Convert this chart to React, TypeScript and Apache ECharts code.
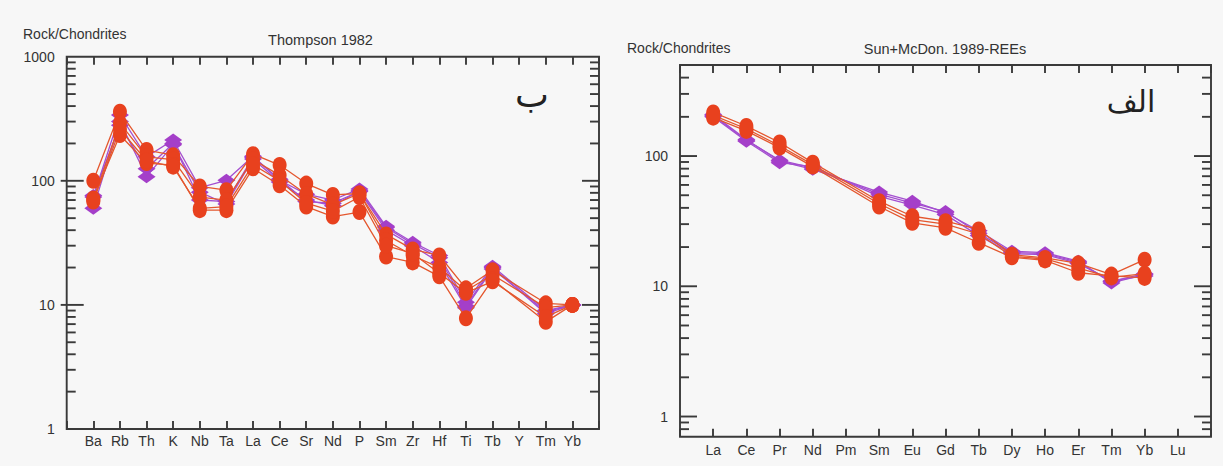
import React, { useEffect, useRef } from "react";
import * as echarts from "echarts";

// ---------- data ----------
const leftCategories = ["Ba", "Rb", "Th", "K", "Nb", "Ta", "La", "Ce", "Sr", "Nd", "P", "Sm", "Zr", "Hf", "Ti", "Tb", "Y", "Tm", "Yb"];
const rightCategories = ["La", "Ce", "Pr", "Nd", "Pm", "Sm", "Eu", "Gd", "Tb", "Dy", "Ho", "Er", "Tm", "Yb", "Lu"];

// Thompson 1982 spider diagram (left, "ب")
const leftPurple1 = [74, 339, 156, 213, 88, 101, 158, 101, 78, 70, 86, 43, 32, 25, 10.5, 20.5, null, 9, 10];
const leftPurple2 = [60, 300, 108, 195, 81, 65, 150, 98, 70, 63, 83, 42, 31, 24, 9.8, 20, null, 8.5, 10];
const leftPurple3 = [76, 280, 125, 200, 70, 68, 155, 103, 68, 66, 82, 40, 30, 22, 9.5, 19.5, null, 8.8, 10];
const leftRed1 = [100, 360, 177, 161, 90, 84, 164, 134, 95, 77, 79, 37, 28, 25, 13.6, 19, null, 10.3, 10];
const leftRed2 = [70, 292, 156, 148, 74, 70, 148, 111, 78, 64, 79, 33, 25, 20, 13, 17.5, null, 9.5, 10];
const leftRed3 = [72, 234, 139, 134, 58, 58, 126, 92, 62, 51.5, 56, 24.5, 22, 17, 7.8, 16, null, 7.3, 10];
const leftRed4 = [68, 260, 145, 130, 60, 62, 135, 100, 66, 57, 74, 30, 26, 18, 12.5, 15.5, null, 8, 10];

// Sun+McDon. 1989 REE diagram (right, "الف")
const rightPurple1 = [208, 134, 91.5, 79, null, 52.9, 45, 36.7, 26.7, 18.6, 18.1, 15.6, 10.6, 12.3, null];
const rightPurple2 = [200, 130, 89, 83, null, 49, 42, 35.5, 24.5, 17.8, 17.5, 15, 11, 12, null];
const rightPurple3 = [204, 132, 93, 81, null, 51, 43.5, 37.5, 25.5, 18.2, 17.8, 15.3, 10.9, 12.5, null];
const rightRed1 = [216, 170, 127, 89, null, 45, 34.5, 31.6, 27.3, 17.5, 16.5, 15, 12.3, 16, null];
const rightRed2 = [197, 156, 116, 83, null, 41, 30.7, 28.1, 21.6, 16.7, 15.8, 12.7, 12, 11.6, null];
const rightRed3 = [205, 162, 120, 86, null, 43, 32.5, 30, 25.2, 17, 16.2, 13.8, 11.7, 12.5, null];

// y-axis tick values
const leftYLabels = [1, 10, 100, 1000];
const rightYLabels = [1, 10, 100];
const leftMajorTicks = [10, 100];
const leftMinorTicks = [2, 3, 4, 5, 6, 7, 8, 9, 20, 30, 40, 50, 60, 70, 80, 90, 200, 300, 400, 500, 600, 700, 800, 900];
const rightMajorTicks = [1, 10, 100];
const rightMinorTicks = [0.8, 0.9, 2, 3, 4, 5, 6, 7, 8, 9, 20, 30, 40, 50, 60, 70, 80, 90, 200, 300, 400];

// ---------- styles ----------
const RED = "#e8411e";
const RED_LINE = "#e4572e";
const PURPLE = "#a43fc9";
const PURPLE_LINE = "#a44fd0";
const FRAME = "#3a3a3a";
const TEXT = "#333";
const FONT = "Liberation Sans, Arial, sans-serif";
const FRAME_W = 1.9;

function toPoints(values: (number | null)[]) {
  const pts: [number, number][] = [];
  values.forEach((v, i) => {
    if (v != null) pts.push([i + 1, v]);
  });
  return pts;
}

function sampleSeries(values: (number | null)[], kind: "red" | "purple", gi: number) {
  const isRed = kind === "red";
  return {
    type: "line",
    xAxisIndex: gi * 2,
    yAxisIndex: gi,
    data: toPoints(values),
    symbol: isRed ? "circle" : "diamond",
    symbolSize: isRed ? [14, 16] : [18, 13],
    itemStyle: { color: isRed ? RED : PURPLE },
    lineStyle: { color: isRed ? RED_LINE : PURPLE_LINE, width: 1.3 },
    z: isRed ? 5 : 4,
    silent: true,
  };
}

function tickSeries(major: number[], minor: number[], xMax: number, gi: number, outward: number) {
  const data = [
    ...major.map((v) => [0, v, 1]),
    ...minor.map((v) => [0, v, 0]),
  ];
  return {
    type: "custom",
    xAxisIndex: gi * 2,
    yAxisIndex: gi,
    data,
    encode: { x: 0, y: 1 },
    clip: false,
    silent: true,
    z: 1,
    renderItem: (params: any, api: any) => {
      const v = api.value(1);
      const isMajor = api.value(2) === 1;
      const l = api.coord([0, v]);
      const r = api.coord([xMax, v]);
      const len = isMajor ? 17 : 9;
      const style = { stroke: FRAME, lineWidth: FRAME_W };
      return {
        type: "group",
        children: [
          { type: "line", shape: { x1: l[0] - (isMajor ? outward : 0), y1: l[1], x2: l[0] + len, y2: l[1] }, style },
          { type: "line", shape: { x1: r[0] - len, y1: r[1], x2: r[0], y2: r[1] }, style },
        ],
      };
    },
  };
}

function xAxes(cats: string[], xMax: number, gi: number, margin: number) {
  const base = {
    type: "value",
    gridIndex: gi,
    min: 0,
    max: xMax,
    interval: 1,
    splitLine: { show: false },
    axisLine: { show: false },
    axisTick: { show: true, inside: true, length: 8, lineStyle: { color: FRAME, width: FRAME_W } },
  };
  return [
    {
      ...base,
      position: "bottom",
      axisLabel: {
        show: true,
        margin,
        fontSize: 14,
        fontFamily: FONT,
        color: TEXT,
        formatter: (v: number) => (v >= 1 && v <= cats.length ? cats[v - 1] : ""),
      },
    },
    {
      ...base,
      position: "top",
      axisLabel: { show: false },
    },
  ];
}

function yAxis(min: number, max: number, gi: number, labels: number[]) {
  return {
    type: "log",
    logBase: 10,
    gridIndex: gi,
    min,
    max,
    splitLine: { show: false },
    axisLine: { show: false },
    axisTick: { show: false },
    minorTick: { show: false },
    axisLabel: {
      margin: 12,
      fontSize: 14,
      fontFamily: FONT,
      color: TEXT,
      customValues: labels,
      formatter: (v: number) => String(Math.round(v)),
    },
  };
}

export default function App() {
  const ref = useRef<HTMLDivElement>(null);

  useEffect(() => {
    if (!ref.current) return;
    const chart = echarts.init(ref.current, null, { renderer: "svg" });
    const option: any = {
      animation: false,
      backgroundColor: "#f7f7f7",
      grid: [
        { left: 66.7, top: 56.7, width: 532.3, height: 372.3, show: true, borderColor: FRAME, borderWidth: FRAME_W, backgroundColor: "transparent", containLabel: false },
        { left: 680, top: 65, width: 531, height: 371.7, show: true, borderColor: FRAME, borderWidth: FRAME_W, backgroundColor: "transparent", containLabel: false },
      ],
      xAxis: [...xAxes(leftCategories, 20, 0, 5), ...xAxes(rightCategories, 16, 1, 6)],
      yAxis: [yAxis(1, 1000, 0, leftYLabels), yAxis(0.7, 500, 1, rightYLabels)],
      series: [
        tickSeries(leftMajorTicks, leftMinorTicks, 20, 0, 6),
        tickSeries(rightMajorTicks, rightMinorTicks, 16, 1, 0),
        sampleSeries(leftPurple1, "purple", 0),
        sampleSeries(leftPurple2, "purple", 0),
        sampleSeries(leftPurple3, "purple", 0),
        sampleSeries(leftRed1, "red", 0),
        sampleSeries(leftRed2, "red", 0),
        sampleSeries(leftRed3, "red", 0),
        sampleSeries(leftRed4, "red", 0),
        sampleSeries(rightPurple1, "purple", 1),
        sampleSeries(rightPurple2, "purple", 1),
        sampleSeries(rightPurple3, "purple", 1),
        sampleSeries(rightRed1, "red", 1),
        sampleSeries(rightRed2, "red", 1),
        sampleSeries(rightRed3, "red", 1),
      ],
      graphic: [
        { type: "text", left: 23, top: 27, style: { text: "Rock/Chondrites", fontSize: 14, fontFamily: FONT, fill: TEXT } },
        { type: "text", x: 320.5, y: 40, style: { text: "Thompson 1982", fontSize: 14.5, fontFamily: FONT, fill: TEXT, align: "center", verticalAlign: "middle" } },
        { type: "text", x: 532, y: 94, style: { text: "ب", fontSize: 36, fontFamily: "DejaVu Sans, sans-serif", fill: "#222", align: "center", verticalAlign: "middle" } },
        { type: "text", left: 627, top: 41, style: { text: "Rock/Chondrites", fontSize: 14, fontFamily: FONT, fill: TEXT } },
        { type: "text", x: 945, y: 49, style: { text: "Sun+McDon. 1989-REEs", fontSize: 14.5, fontFamily: FONT, fill: TEXT, align: "center", verticalAlign: "middle" } },
        { type: "text", x: 1131, y: 101, style: { text: "الف", fontSize: 30, fontFamily: "DejaVu Sans, sans-serif", fill: "#222", align: "center", verticalAlign: "middle" } },
      ],
    };
    chart.setOption(option);
    return () => chart.dispose();
  }, []);

  return (
    <div
      ref={ref}
      style={{ position: "fixed", left: 0, top: 0, width: 1223, height: 466, background: "#f7f7f7" }}
    />
  );
}
